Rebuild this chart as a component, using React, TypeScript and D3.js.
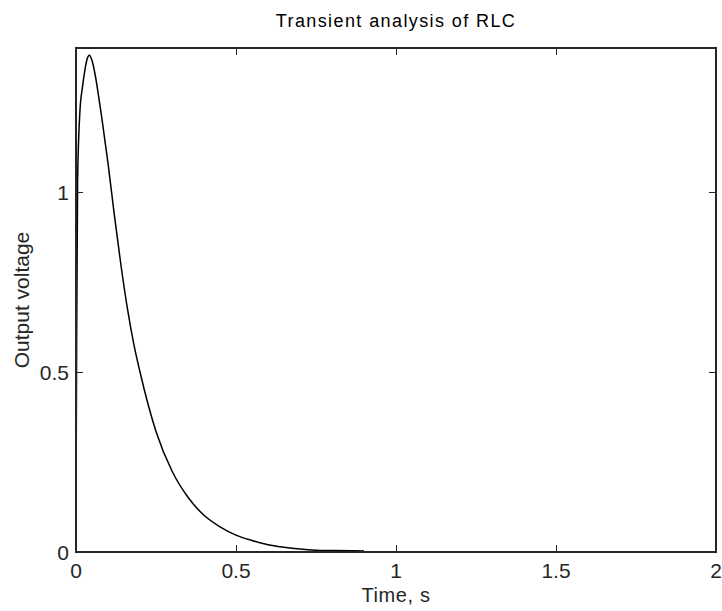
import React from "react";
import * as d3 from "d3";

const timeS = [0, 0.002, 0.005, 0.012, 0.02, 0.028, 0.035, 0.042, 0.05, 0.06, 0.07, 0.08, 0.09, 0.1, 0.12, 0.14, 0.16, 0.18, 0.2, 0.25, 0.3, 0.35, 0.4, 0.45, 0.5, 0.55, 0.6, 0.65, 0.7, 0.75, 0.8, 0.9];
const voltage = [0.125, 0.57, 1.03, 1.22, 1.29, 1.34, 1.37, 1.38, 1.365, 1.325, 1.27, 1.21, 1.145, 1.08, 0.935, 0.8, 0.68, 0.58, 0.5, 0.335, 0.225, 0.152, 0.102, 0.07, 0.047, 0.032, 0.02, 0.013, 0.008, 0.005, 0.004, 0.003];
const xTicks = [0, 0.5, 1, 1.5, 2];
const yTicks = [0, 0.5, 1];
const xTickLabels = ["0", "0.5", "1", "1.5", "2"];
const yTickLabels = ["0", "0.5", "1"];

const W = 722, H = 611;
const L = 76, R = 716, T = 48, B = 552;
const FONT = "'Liberation Sans', Arial, sans-serif";
const AX = "#262626";

export default function App() {
  const x = d3.scaleLinear().domain([0, 2]).range([L, R]);
  const y = d3.scaleLinear().domain([0, 1.4]).range([B, T]);
  const pts: [number, number][] = timeS.map((t, i) => [t, voltage[i]]);
  const line = d3.line<[number, number]>().x(d => x(d[0])).y(d => y(d[1])).curve(d3.curveMonotoneX);
  const tl = 7;
  return (
    <svg width={W} height={H} style={{ position: "absolute", left: 0, top: 0, background: "#fff" }}>
      <rect x={0} y={0} width={W} height={H} fill="#fff" />
      <path d={line(pts) || ""} fill="none" stroke="#000" strokeWidth={1.5} />
      <rect x={L} y={T} width={R - L} height={B - T} fill="none" stroke={AX} strokeWidth={1.2} shapeRendering="crispEdges" />
      {xTicks.map((t, i) => (
        <g key={"x" + i}>
          <line x1={x(t)} x2={x(t)} y1={B} y2={B - tl} stroke={AX} shapeRendering="crispEdges" />
          <line x1={x(t)} x2={x(t)} y1={T} y2={T + tl} stroke={AX} shapeRendering="crispEdges" />
          <text x={x(t)} y={578} textAnchor="middle" fontFamily={FONT} fontSize={21} fill={AX}>{xTickLabels[i]}</text>
        </g>
      ))}
      {yTicks.map((t, i) => (
        <g key={"y" + i}>
          <line x1={L} x2={L + tl} y1={y(t)} y2={y(t)} stroke={AX} shapeRendering="crispEdges" />
          <line x1={R} x2={R - tl} y1={y(t)} y2={y(t)} stroke={AX} shapeRendering="crispEdges" />
          <text x={69} y={y(t)} dy="0.36em" textAnchor="end" fontFamily={FONT} fontSize={21} fill={AX}>{yTickLabels[i]}</text>
        </g>
      ))}
      <text x={(L + R) / 2} y={27} textAnchor="middle" fontFamily={FONT} fontSize={18} letterSpacing={1.4} fill="#000">Transient analysis of RLC</text>
      <text x={(L + R) / 2} y={602} textAnchor="middle" fontFamily={FONT} fontSize={20} letterSpacing={0.6} fill={AX}>Time, s</text>
      <text transform={`translate(28.5,${(T + B) / 2}) rotate(-90)`} textAnchor="middle" fontFamily={FONT} fontSize={21} fill={AX}>Output voltage</text>
    </svg>
  );
}
